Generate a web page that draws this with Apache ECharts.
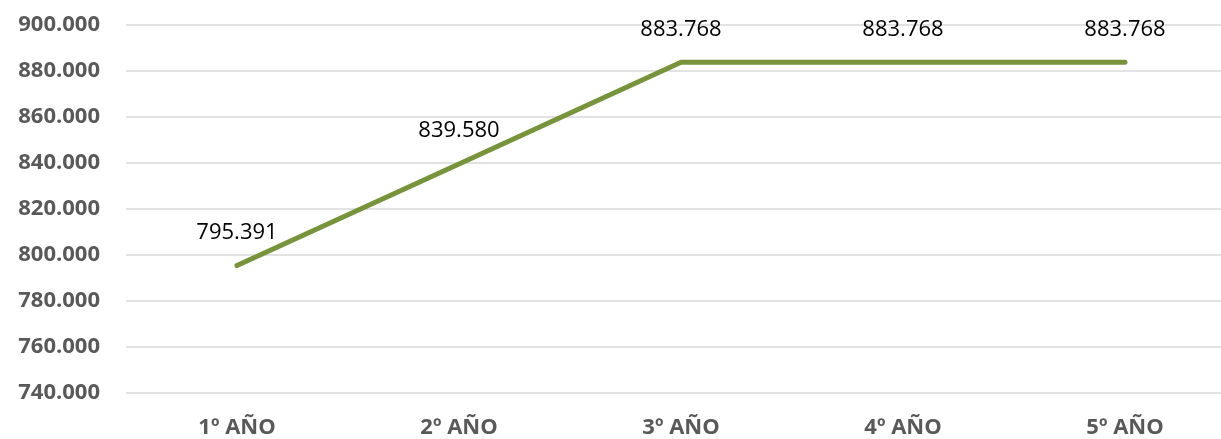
<!DOCTYPE html>
<html lang="es">
<head>
    <meta charset="UTF-8">
    <title>Evolución anual</title>
    <script src="https://cdn.jsdelivr.net/npm/echarts@6/dist/echarts.min.js"></script>
    <style>
        html,body{margin:0;padding:0;background:#fff;}
        #chart{width:1221px;height:439px;}
    </style>
</head>
<body>
<div id="chart"></div>
<script>
    'use strict';
    // datos
    const categorias=['1º AÑO','2º AÑO','3º AÑO','4º AÑO','5º AÑO'];
    const valores=[795391,839580,883768,883768,883768];

    // formato con punto de miles
    function miles(v){
        return String(Math.round(v)).replace(/\B(?=(\d{3})+(?!\d))/g,'.');
    }

    const mychart=echarts.init(document.getElementById('chart'));
    const fuente='"Open Sans", "Noto Sans", sans-serif';
    const option={
        animation:false,
        grid:{left:126,top:25,width:1110,height:368,outerBoundsMode:'none',containLabel:false},
        xAxis:{
            type:'category',
            data:categorias,
            boundaryGap:true,
            axisLine:{show:false},
            axisTick:{show:false},
            axisLabel:{color:'#595959',fontSize:22,fontWeight:'bold',fontFamily:fuente,margin:24}
        },
        yAxis:{
            type:'value',
            min:740000,
            max:900000,
            interval:20000,
            axisLine:{show:false},
            axisTick:{show:false},
            splitLine:{lineStyle:{color:'#d9d9d9',width:1.5}},
            axisLabel:{
                color:'#595959',fontSize:22,fontWeight:'bold',fontFamily:fuente,margin:26,
                formatter:miles
            }
        },
        series:[{
            type:'line',
            data:valores,
            showSymbol:true,
            symbol:'circle',
            symbolSize:2,
            itemStyle:{color:'rgba(0,0,0,0)',borderWidth:0},
            lineStyle:{color:'#77933c',width:5,cap:'round',join:'round'},
            label:{
                show:true,
                position:'top',
                distance:21,
                color:'#000',
                fontSize:22,
                fontFamily:fuente,
                formatter:function(p){return miles(p.value);}
            },
            labelLayout:{hideOverlap:false}
        }]
    };
    mychart.setOption(option);
</script>
</body>
</html>
